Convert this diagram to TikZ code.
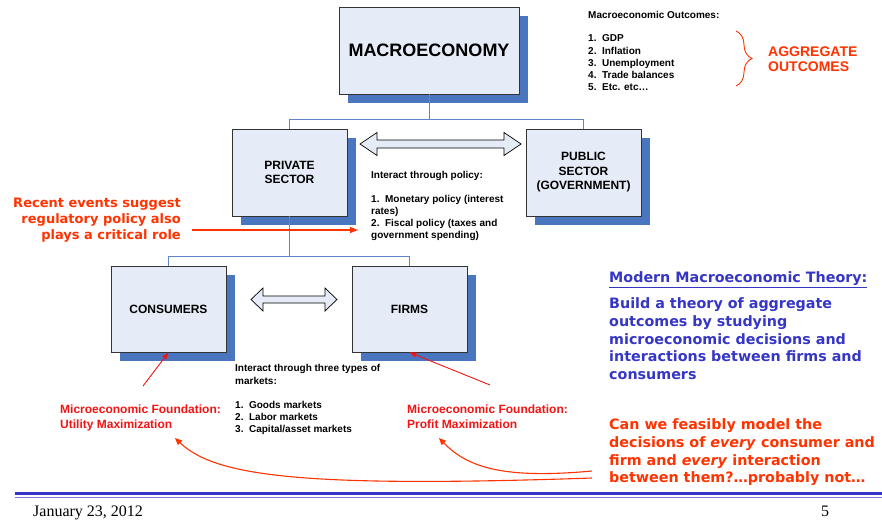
\documentclass[tikz,border=0pt]{standalone}
\usepackage{fontspec}
\newfontfamily\arialf{Liberation Sans}
\newfontfamily\verdf{DejaVu Sans}
\newfontfamily\seriff{Liberation Serif}
\usetikzlibrary{arrows.meta,shadows,decorations.pathreplacing,calc}

\definecolor{boxfill}{HTML}{E6ECF7}
\definecolor{boxedge}{HTML}{333333}
\definecolor{shadowblue}{HTML}{4A76C0}
\definecolor{linkblue}{HTML}{5F84CC}
\definecolor{hotred}{HTML}{FF3300}
\definecolor{purered}{HTML}{F41414}
\definecolor{theoryblue}{HTML}{3636C6}
\definecolor{footblue}{HTML}{3434C8}
\definecolor{footlight}{HTML}{7A7ADC}

\begin{document}
\begin{tikzpicture}[x=1pt,y=-1pt,
  block/.style={draw=boxedge, fill=boxfill, line width=0.8pt, inner sep=0pt,
    minimum width=115pt, minimum height=87pt, align=center,
    font=\arialf\bfseries\fontsize{12}{14.5}\selectfont,
    drop shadow={shadow xshift=9pt, shadow yshift=-9pt, fill=shadowblue, opacity=1}},
  link/.style={draw=linkblue, line width=0.9pt},
  note/.style={inner sep=0pt, anchor=north west, align=left,
    font=\arialf\bfseries\fontsize{10}{12.2}\selectfont},
  founder/.style={inner sep=0pt, anchor=north west, align=left, text=purered,
    font=\arialf\bfseries\fontsize{12}{15}\selectfont},
  wide/.style={inner sep=0pt, align=left,
    font=\verdf\bfseries\fontsize{14.3}{17.6}\selectfont},
  arrowshape/.style={draw=black, fill=boxfill, line width=0.7pt, line join=miter},
  thinred/.style={draw=purered, line width=0.9pt, -{Triangle[length=7pt,width=5pt]}},
  curvered/.style={draw=hotred, line width=1.1pt, -{Triangle[length=7pt,width=6pt]}},
  pics/dblarrow/.style args={#1/#2/#3/#4}{code={
    \path[arrowshape] (0,0) -- (#3,-#2) -- (#3,-#4) -- (#1-#3,-#4) -- (#1-#3,-#2)
      -- (#1,0) -- (#1-#3,#2) -- (#1-#3,#4) -- (#3,#4) -- (#3,#2) -- cycle;
  }}
]
\useasboundingbox (0,0) rectangle (882,523);
\fill[white] (0,0) rectangle (882,523);

% ---- hierarchy boxes ----
\node[block, minimum width=180pt, font=\arialf\bfseries\fontsize{18}{20}\selectfont]
  (macro) at (429,50.5) {MACROECONOMY};
\node[block] (private) at (289.5,172.5) {PRIVATE\\SECTOR};
\node[block] (public) at (583.5,172.5) {PUBLIC\\SECTOR\\(GOVERNMENT)};
\node[block, minimum height=86pt] (consumers) at (168.5,309) {CONSUMERS};
\node[block, minimum height=86pt] (firms) at (409.5,309) {FIRMS};

% ---- tree connectors ----
\coordinate (topbar) at (429,119);
\coordinate (midbar) at (289.5,256);
\draw[link] (macro.south) -- (macro.south |- topbar);
\draw[link] (private.north) -- (private.north |- topbar) -- (public.north |- topbar) -- (public.north);
\draw[link] (private.south) -- (private.south |- midbar);
\draw[link] (consumers.north) -- (consumers.north |- midbar) -- (firms.north |- midbar) -- (firms.north);

% ---- two-way interaction arrows ----
\pic at (360,144) {dblarrow=161/11.5/17/4};
\pic at (251,299.5) {dblarrow=86/11.5/12/3.5};

% ---- aggregate outcomes list ----
\node[note] (outcomes) at (588,11.4) {Macroeconomic Outcomes:\\[10.8pt]
  1.\ \ GDP\\2.\ \ Inflation\\3.\ \ Unemployment\\4.\ \ Trade balances\\5.\ \ Etc. etc\dots};
\draw[hotred, line width=0.9pt, decorate, decoration={brace, amplitude=16pt}]
  (736,31) -- (736,86);
\node[inner sep=0pt, anchor=north west, align=left, text=hotred,
  font=\arialf\bfseries\fontsize{14}{15}\selectfont] (aggr) at (768,47) {AGGREGATE\\OUTCOMES};

% ---- policy notes ----
\node[note, font=\arialf\bfseries\fontsize{10}{12}\selectfont] (policy) at (371,170.7)
  {Interact through policy:\\[12.7pt]
   1.\ \ Monetary policy (interest\\rates)\\2.\ \ Fiscal policy (taxes and\\government spending)};
\node[wide, anchor=north east, align=right, text=hotred,
  font=\verdf\bfseries\fontsize{13}{15.8}\selectfont] (recent) at (181,198.3)
  {Recent events suggest\\regulatory policy also\\plays a critical role};
\coordinate (polstart) at (192,230);
\coordinate (polend) at (358,230);
\draw[draw=hotred, line width=1.1pt, -{Triangle[length=8pt,width=6pt]}] (polstart) -- (polend);

% ---- market notes ----
\node[note] (markets) at (235,364.4)
  {Interact through three types of\\markets:\\[12.3pt]
   1.\ \ Goods markets\\2.\ \ Labor markets\\3.\ \ Capital/asset markets};

% ---- micro foundations ----
\node[founder] (ufound) at (60,404.2) {Microeconomic Foundation:\\Utility Maximization};
\node[founder] (pfound) at (407,404.2) {Microeconomic Foundation:\\Profit Maximization};
\coordinate (cfoot) at (143,386);
\coordinate (ffoot) at (490,385);
\draw[thinred] (cfoot) -- (consumers.south);
\draw[thinred] (ffoot) -- (firms.south);

% ---- theory text ----
\node[wide, anchor=north west, text=theoryblue] (theoryhead) at (609,271.8)
  {\underline{Modern Macroeconomic Theory:}};
\node[wide, anchor=north west, text=theoryblue] (theory) at (609,297.8)
  {Build a theory of aggregate\\outcomes by studying\\microeconomic decisions and\\
   interactions between firms and\\consumers};
\node[wide, anchor=north west, text=hotred] (question) at (609,418.8)
  {Can we feasibly model the\\decisions of \textit{every} consumer and\\
   firm and \textit{every} interaction\\between them?\dots probably not\dots};

% ---- curved pointers back to the foundations ----
\coordinate (q1) at (592,471);
\coordinate (q2) at (592,478);
\coordinate (tipP) at (439,438);
\coordinate (tipU) at (175,438);
\draw[curvered] (q1) .. controls (505,479) and (468,468) .. (tipP);
\draw[curvered] (q2) .. controls (300,488) and (215,476) .. (tipU);

% ---- footer ----
\coordinate (fl) at (15,493);
\coordinate (fr) at (882,493);
\draw[footblue, line width=3pt] (fl) -- (fr);
\draw[footlight, line width=1pt] ($(fl)+(0,4.5)$) -- ($(fr)+(0,4.5)$);
\node[inner sep=0pt, anchor=base west, font=\seriff\fontsize{16}{18}\selectfont] (date) at (33,516) {January 23, 2012};
\node[inner sep=0pt, anchor=base west, font=\seriff\fontsize{16}{18}\selectfont] (page) at (821,516) {5};
\end{tikzpicture}
\end{document}
